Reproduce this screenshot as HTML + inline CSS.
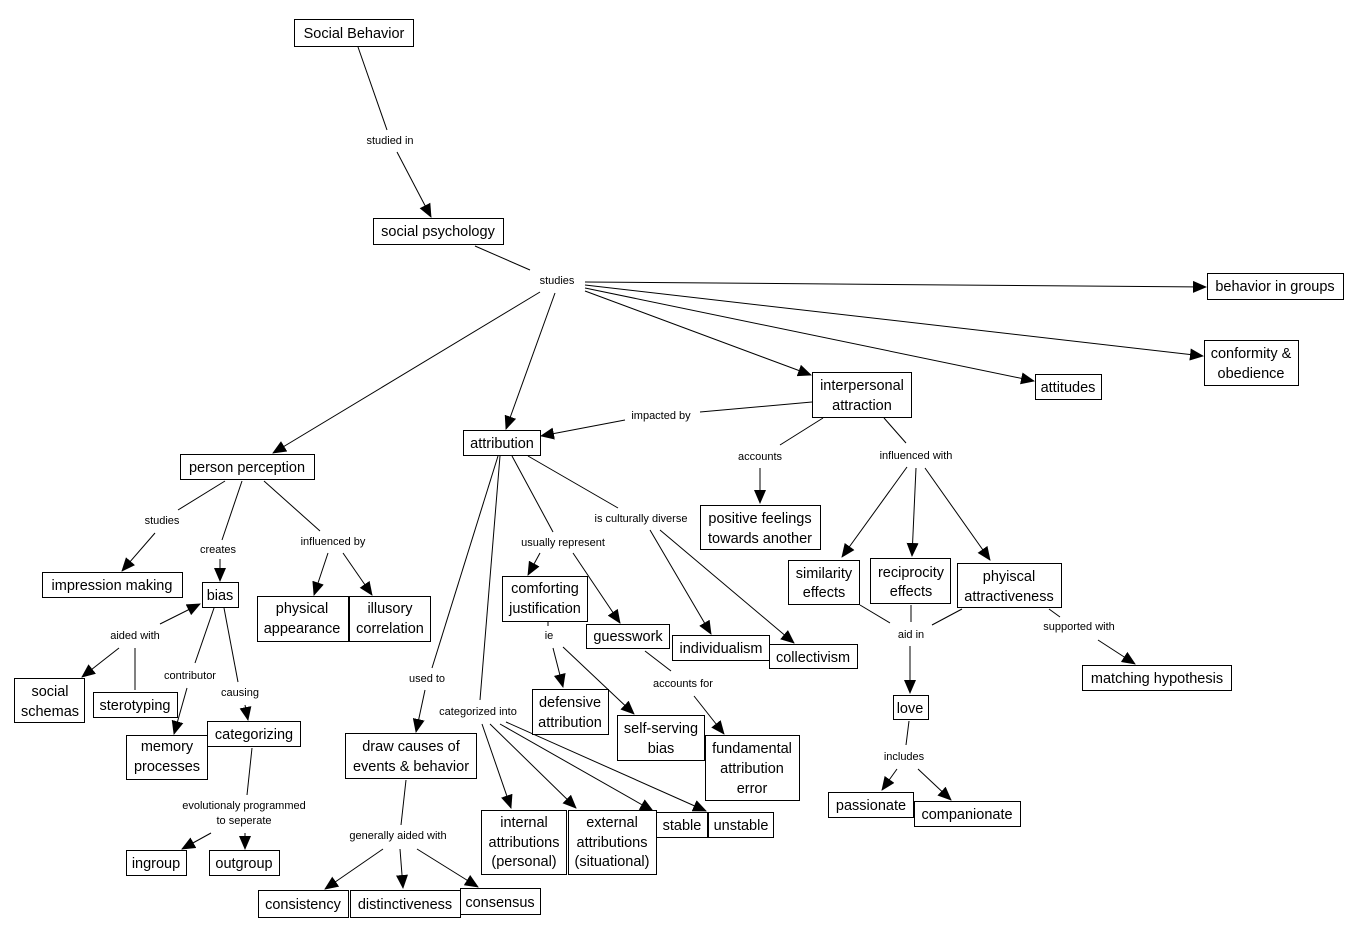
<!DOCTYPE html>
<html><head><meta charset="utf-8"><style>
html,body{margin:0;padding:0;background:#fff;}
svg{display:block;}
.n rect{fill:#fff;stroke:#000;stroke-width:1;}
.n text{font-family:"Liberation Sans",sans-serif;font-size:14.5px;text-anchor:middle;fill:#000;}
.l{font-family:"Liberation Sans",sans-serif;font-size:11px;text-anchor:middle;fill:#000;}
line{stroke:#000;stroke-width:1;}
line.a{marker-end:url(#ar);}
</style></head><body>
<svg width="1355" height="937" viewBox="0 0 1355 937" xmlns="http://www.w3.org/2000/svg">
<defs><marker id="ar" markerWidth="14" markerHeight="12" refX="13" refY="6" orient="auto" markerUnits="userSpaceOnUse"><path d="M0,0 L14,6 L0,12 z" fill="#000"/></marker></defs>

<!-- edges -->
<line x1="358" y1="47" x2="387" y2="130"/><line class="a" x1="397" y1="152" x2="431" y2="217"/>
<line x1="475" y1="246" x2="530" y2="270"/>
<line class="a" x1="585" y1="282" x2="1206" y2="287"/>
<line class="a" x1="585" y1="285" x2="1203" y2="356"/>
<line class="a" x1="585" y1="288" x2="1034" y2="381"/>
<line class="a" x1="585" y1="291" x2="811" y2="375"/>
<line class="a" x1="555" y1="293" x2="506" y2="429"/>
<line class="a" x1="540" y1="292" x2="273" y2="453"/>
<line x1="812" y1="402" x2="700" y2="412"/><line class="a" x1="625" y1="420" x2="541" y2="436"/>
<line x1="823" y1="418" x2="780" y2="445"/><line class="a" x1="760" y1="468" x2="760" y2="503"/>
<line x1="884" y1="418" x2="906" y2="443"/>
<line class="a" x1="907" y1="467" x2="842" y2="557"/>
<line class="a" x1="916" y1="468" x2="912" y2="556"/>
<line class="a" x1="925" y1="468" x2="990" y2="560"/>
<line x1="860" y1="605" x2="890" y2="623"/><line x1="911" y1="605" x2="911" y2="622"/><line x1="962" y1="609" x2="932" y2="625"/>
<line class="a" x1="910" y1="646" x2="910" y2="693"/>
<line x1="1049" y1="609" x2="1060" y2="617"/><line class="a" x1="1098" y1="640" x2="1135" y2="664"/>
<line x1="909" y1="721" x2="906" y2="745"/><line class="a" x1="897" y1="769" x2="882" y2="790"/><line class="a" x1="918" y1="769" x2="951" y2="800"/>
<line x1="528" y1="456" x2="618" y2="508"/><line class="a" x1="650" y1="530" x2="711" y2="634"/><line class="a" x1="660" y1="530" x2="794" y2="643"/>
<line x1="512" y1="456" x2="553" y2="532"/><line class="a" x1="540" y1="553" x2="528" y2="575"/><line class="a" x1="573" y1="553" x2="620" y2="623"/>
<line x1="548" y1="622" x2="548" y2="626"/><line class="a" x1="553" y1="648" x2="563" y2="687"/><line class="a" x1="563" y1="647" x2="634" y2="714"/>
<line x1="645" y1="651" x2="671" y2="671"/><line class="a" x1="694" y1="696" x2="724" y2="734"/>
<line x1="498" y1="456" x2="432" y2="668"/><line class="a" x1="425" y1="690" x2="416" y2="732"/>
<line x1="500" y1="456" x2="480" y2="700"/>
<line class="a" x1="482" y1="724" x2="511" y2="808"/><line class="a" x1="490" y1="724" x2="576" y2="808"/><line class="a" x1="500" y1="724" x2="653" y2="811"/><line class="a" x1="506" y1="722" x2="706" y2="811"/>
<line x1="406" y1="780" x2="401" y2="825"/><line class="a" x1="383" y1="849" x2="325" y2="889"/><line class="a" x1="400" y1="849" x2="403" y2="888"/><line class="a" x1="417" y1="849" x2="478" y2="887"/>
<line x1="225" y1="481" x2="178" y2="510"/><line class="a" x1="155" y1="533" x2="122" y2="571"/>
<line x1="242" y1="481" x2="222" y2="540"/><line class="a" x1="220" y1="559" x2="220" y2="581"/>
<line x1="264" y1="481" x2="320" y2="531"/><line class="a" x1="328" y1="553" x2="314" y2="595"/><line class="a" x1="343" y1="553" x2="372" y2="595"/>
<line class="a" x1="160" y1="624" x2="200" y2="604"/><line x1="135" y1="690" x2="135" y2="648"/><line class="a" x1="119" y1="648" x2="82" y2="677"/>
<line x1="214" y1="608" x2="195" y2="663"/><line class="a" x1="187" y1="688" x2="174" y2="734"/>
<line x1="224" y1="608" x2="238" y2="682"/><line class="a" x1="245" y1="705" x2="248" y2="720"/>
<line x1="252" y1="748" x2="247" y2="795"/><line class="a" x1="211" y1="833" x2="182" y2="849"/><line class="a" x1="245" y1="833" x2="245" y2="849"/>

<!-- labels -->
<text class="l" x="390" y="144">studied in</text>
<text class="l" x="557" y="284">studies</text>
<text class="l" x="661" y="419">impacted by</text>
<text class="l" x="760" y="460">accounts</text>
<text class="l" x="916" y="459">influenced with</text>
<text class="l" x="911" y="638">aid in</text>
<text class="l" x="1079" y="630">supported with</text>
<text class="l" x="904" y="760">includes</text>
<text class="l" x="641" y="522">is culturally diverse</text>
<text class="l" x="563" y="546">usually represent</text>
<text class="l" x="549" y="639">ie</text>
<text class="l" x="683" y="687">accounts for</text>
<text class="l" x="427" y="682">used to</text>
<text class="l" x="478" y="715">categorized into</text>
<text class="l" x="398" y="839">generally aided with</text>
<text class="l" x="162" y="524">studies</text>
<text class="l" x="218" y="553">creates</text>
<text class="l" x="333" y="545">influenced by</text>
<text class="l" x="135" y="639">aided with</text>
<text class="l" x="190" y="679">contributor</text>
<text class="l" x="240" y="696">causing</text>
<text class="l" x="244" y="809">evolutionaly programmed</text>
<text class="l" x="244" y="824">to seperate</text>

<!-- nodes -->
<g class="n">
<rect x="294.5" y="19.5" width="119" height="27"/><text x="354" y="38">Social Behavior</text>
<rect x="373.5" y="218.5" width="130" height="26"/><text x="438" y="236">social psychology</text>
<rect x="1207.5" y="273.5" width="136" height="26"/><text x="1275" y="291">behavior in groups</text>
<rect x="1204.5" y="340.5" width="94" height="45"/><text x="1251" y="358">conformity &amp;</text><text x="1251" y="378">obedience</text>
<rect x="1035.5" y="374.5" width="66" height="25"/><text x="1068" y="392">attitudes</text>
<rect x="812.5" y="372.5" width="99" height="45"/><text x="862" y="390">interpersonal</text><text x="862" y="410">attraction</text>
<rect x="463.5" y="430.5" width="77" height="25"/><text x="502" y="448">attribution</text>
<rect x="180.5" y="454.5" width="134" height="25"/><text x="247" y="472">person perception</text>
<rect x="700.5" y="505.5" width="120" height="44"/><text x="760" y="523">positive feelings</text><text x="760" y="543">towards another</text>
<rect x="42.5" y="572.5" width="140" height="25"/><text x="112" y="590">impression making</text>
<rect x="202.5" y="582.5" width="36" height="25"/><text x="220" y="600">bias</text>
<rect x="257.5" y="596.5" width="91" height="45"/><text x="302" y="613">physical</text><text x="302" y="633">appearance</text>
<rect x="349.5" y="596.5" width="81" height="45"/><text x="390" y="613">illusory</text><text x="390" y="633">correlation</text>
<rect x="502.5" y="576.5" width="85" height="45"/><text x="545" y="593">comforting</text><text x="545" y="613">justification</text>
<rect x="586.5" y="624.5" width="83" height="24"/><text x="628" y="641">guesswork</text>
<rect x="672.5" y="635.5" width="97" height="25"/><text x="721" y="653">individualism</text>
<rect x="769.5" y="644.5" width="88" height="24"/><text x="813" y="662">collectivism</text>
<rect x="788.5" y="560.5" width="71" height="44"/><text x="824" y="578">similarity</text><text x="824" y="597">effects</text>
<rect x="870.5" y="558.5" width="80" height="45"/><text x="911" y="577">reciprocity</text><text x="911" y="596">effects</text>
<rect x="957.5" y="563.5" width="104" height="44"/><text x="1009" y="581">phyiscal</text><text x="1009" y="601">attractiveness</text>
<rect x="1082.5" y="665.5" width="149" height="25"/><text x="1157" y="683">matching hypothesis</text>
<rect x="14.5" y="678.5" width="70" height="44"/><text x="50" y="696">social</text><text x="50" y="716">schemas</text>
<rect x="93.5" y="692.5" width="84" height="25"/><text x="135" y="710">sterotyping</text>
<rect x="126.5" y="735.5" width="81" height="44"/><text x="167" y="751">memory</text><text x="167" y="771">processes</text>
<rect x="207.5" y="721.5" width="93" height="25"/><text x="254" y="739">categorizing</text>
<rect x="532.5" y="689.5" width="76" height="45"/><text x="570" y="707">defensive</text><text x="570" y="727">attribution</text>
<rect x="617.5" y="715.5" width="87" height="45"/><text x="661" y="733">self-serving</text><text x="661" y="753">bias</text>
<rect x="705.5" y="735.5" width="94" height="65"/><text x="752" y="753">fundamental</text><text x="752" y="773">attribution</text><text x="752" y="793">error</text>
<rect x="893.5" y="695.5" width="35" height="24"/><text x="910" y="713">love</text>
<rect x="345.5" y="733.5" width="131" height="45"/><text x="411" y="751">draw causes of</text><text x="411" y="771">events &amp; behavior</text>
<rect x="481.5" y="810.5" width="85" height="64"/><text x="524" y="827">internal</text><text x="524" y="847">attributions</text><text x="524" y="866">(personal)</text>
<rect x="568.5" y="810.5" width="88" height="64"/><text x="612" y="827">external</text><text x="612" y="847">attributions</text><text x="612" y="866">(situational)</text>
<rect x="656.5" y="812.5" width="51" height="25"/><text x="682" y="830">stable</text>
<rect x="708.5" y="812.5" width="65" height="25"/><text x="741" y="830">unstable</text>
<rect x="828.5" y="792.5" width="85" height="25"/><text x="871" y="810">passionate</text>
<rect x="914.5" y="801.5" width="106" height="25"/><text x="967" y="819">companionate</text>
<rect x="126.5" y="850.5" width="60" height="25"/><text x="156" y="868">ingroup</text>
<rect x="209.5" y="850.5" width="70" height="25"/><text x="244" y="868">outgroup</text>
<rect x="258.5" y="890.5" width="90" height="27"/><text x="303" y="909">consistency</text>
<rect x="350.5" y="890.5" width="110" height="27"/><text x="405" y="909">distinctiveness</text>
<rect x="460.5" y="888.5" width="80" height="26"/><text x="500" y="907">consensus</text>
</g>
</svg>
</body></html>
